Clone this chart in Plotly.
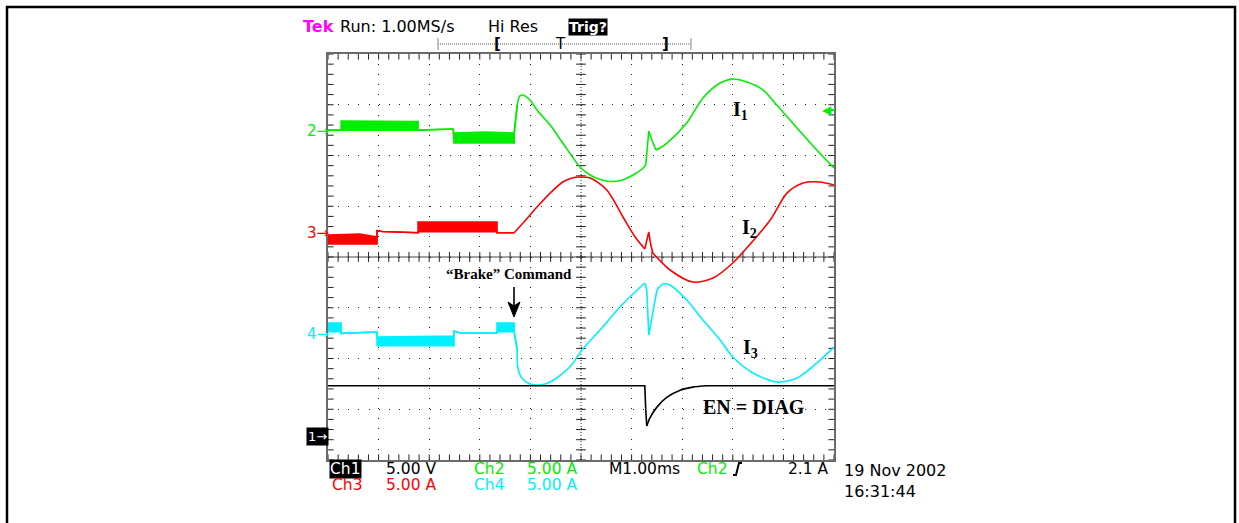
import plotly.graph_objects as go

W, H = 1239, 523

# ---------------- data (time in ms, currents in A, voltage in V) ----------------
# Ch2 : I1 (green) - lower / upper envelope (upper differs only where PWM ripple band)
ch2_t = [0.00, 0.26, 0.26, 1.03, 1.78, 1.78, 2.47, 2.49, 3.10, 3.68, 3.68, 3.74, 3.79, 3.85,
         3.99, 4.13, 4.39, 4.64, 4.98, 5.18, 5.38, 5.57, 5.77, 6.03, 6.21, 6.28, 6.30, 6.34,
         6.40, 6.48, 6.56, 6.70, 7.09, 7.41, 7.75, 8.00, 8.28, 8.60, 8.87, 9.27, 9.66, 10.0]
ch2_lo = [0.00, 0.00, 0.01, 0.06, 0.01, 0.00, 0.11, -1.27, -1.27, -1.27, -0.29, 2.47, 3.36, 3.46,
          2.97, 1.98, 0.50, -1.27, -3.63, -4.42, -4.87, -5.06, -4.99, -4.42, -3.83, -3.44, -2.45, -0.09,
          -0.98, -1.96, -1.76, -1.27, 0.70, 3.16, 4.64, 5.04, 4.74, 3.95, 2.47, 0.21, -1.96, -3.73]
ch2_hi = [0.00, 0.00, 0.90, 0.90, 0.85, 0.00, 0.11, -0.29, -0.19, -0.29, -0.29, 2.47, 3.36, 3.46,
          2.97, 1.98, 0.50, -1.27, -3.63, -4.42, -4.87, -5.06, -4.99, -4.42, -3.83, -3.44, -2.45, -0.09,
          -0.98, -1.96, -1.76, -1.27, 0.70, 3.16, 4.64, 5.04, 4.74, 3.95, 2.47, 0.21, -1.96, -3.73]

# Ch3 : I2 (red)
ch3_t = [0.00, 0.63, 0.97, 0.97, 1.07, 1.78, 1.78, 3.34, 3.34, 3.68, 3.89, 4.13, 4.39, 4.64,
         4.82, 4.98, 5.18, 5.51, 5.83, 6.07, 6.26, 6.30, 6.34, 6.38, 6.42, 6.76, 7.21, 7.61,
         8.00, 8.24, 8.74, 9.07, 9.39, 9.72, 10.0]
ch3_lo = [-1.22, -1.22, -1.22, 0.09, 0.01, -0.11, -0.01, -0.01, -0.11, -0.11, 1.04, 2.42, 3.80, 4.89,
          5.28, 5.38, 5.28, 4.10, 1.44, -0.53, -1.71, -0.83, -0.04, -1.32, -2.11, -3.78, -4.97, -4.57,
          -3.09, -1.81, 1.14, 3.80, 4.79, 4.89, 4.59]
ch3_hi = [-0.33, -0.24, -0.53, 0.09, 0.01, -0.11, 0.95, 0.95, -0.11, -0.11, 1.04, 2.42, 3.80, 4.89,
          5.28, 5.38, 5.28, 4.10, 1.44, -0.53, -1.71, -0.83, -0.04, -1.32, -2.11, -3.78, -4.97, -4.57,
          -3.09, -1.81, 1.14, 3.80, 4.79, 4.89, 4.59]

# Ch4 : I3 (cyan)
ch4_t = [0.00, 0.26, 0.26, 0.97, 0.97, 2.49, 2.49, 2.61, 3.34, 3.34, 3.68, 3.68, 3.74, 3.75,
         3.83, 3.99, 4.19, 4.39, 4.78, 5.02, 5.43, 5.77, 6.11, 6.26, 6.30, 6.34, 6.40, 6.50,
         6.62, 6.76, 7.09, 7.41, 7.75, 8.00, 8.40, 8.87, 9.27, 9.66, 10.0]
ch4_lo = [0.14, 0.14, -0.02, 0.11, -1.24, -1.24, 0.21, 0.01, 0.01, 0.14, 0.14, 0.11, -1.66, -3.34,
          -4.42, -5.01, -5.11, -4.82, -3.34, -1.66, 0.60, 2.57, 4.25, 4.94, 4.25, -0.19, 1.59, 4.25,
          4.84, 4.74, 3.26, 1.29, -0.68, -2.35, -3.93, -4.82, -4.42, -2.95, -1.37]
ch4_hi = [0.99, 0.99, -0.02, 0.11, -0.38, -0.29, 0.21, 0.01, 0.01, 0.99, 0.99, 0.11, -1.66, -3.34,
          -4.42, -5.01, -5.11, -4.82, -3.34, -1.66, 0.60, 2.57, 4.25, 4.94, 4.25, -0.19, 1.59, 4.25,
          4.84, 4.74, 3.26, 1.29, -0.68, -2.35, -3.93, -4.82, -4.42, -2.95, -1.37]

# Ch1 : EN = DIAG (black)
ch1_t = [0.00, 6.26, 6.28, 6.30, 6.36, 6.50, 6.70, 6.96, 7.21, 7.49, 10.0]
ch1_v = [4.96, 4.96, 2.56, 0.99, 1.77, 2.86, 3.84, 4.53, 4.83, 4.96, 4.96]

# ---------------- drawing style: how each channel's point list is stroked ----------------
# (first index, last index, line shape)
ch2_segments = [(0, 11, 'linear'), (11, 25, 'spline'), (25, 29, 'linear'), (29, 41, 'spline')]
ch3_segments = [(0, 9, 'linear'), (9, 20, 'spline'), (20, 24, 'linear'), (24, 34, 'spline')]
ch4_segments = [(0, 12, 'linear'), (12, 23, 'spline'), (23, 27, 'linear'), (27, 38, 'spline')]
ch1_segments = [(0, 3, 'linear'), (3, 9, 'spline'), (9, 10, 'linear')]


def PX(x):
    return x / W


def PY(y):
    return 1 - y / H


fig = go.Figure()

GRID = '#222222'
# graticule minor ticks (centre lines and border)
minor_x = [i * 0.2 for i in range(51)]
minor_y = [i * 0.2 for i in range(41)]
tick_style = dict(color=GRID, width=1)
for yy, sz in [(4, 7), (0, 8), (8, 8)]:
    fig.add_trace(go.Scatter(x=minor_x, y=[yy] * len(minor_x), mode='markers',
                             marker=dict(symbol='line-ns', size=sz, line=tick_style),
                             hoverinfo='skip', showlegend=False))
for xx, sz in [(5, 7), (0, 8), (10, 8)]:
    fig.add_trace(go.Scatter(x=[xx] * len(minor_y), y=minor_y, mode='markers',
                             marker=dict(symbol='line-ew', size=sz, line=tick_style),
                             hoverinfo='skip', showlegend=False))


def add_channel(t, lo, hi, color, offset, per_div, segments):
    ylo = [offset + v / per_div for v in lo]
    yhi = [offset + v / per_div for v in hi]
    for a, b, shape in segments:
        tt = t[a:b + 1]
        line = dict(color=color, width=1.6, shape=shape)
        if shape == 'spline':
            line['smoothing'] = 0.8
        fig.add_trace(go.Scatter(x=tt, y=ylo[a:b + 1], mode='lines', line=line,
                                 hoverinfo='skip', showlegend=False))
        if yhi[a:b + 1] != ylo[a:b + 1]:
            fig.add_trace(go.Scatter(x=tt, y=yhi[a:b + 1], mode='lines', line=line,
                                     fill='tonexty', fillcolor=color,
                                     hoverinfo='skip', showlegend=False))


GREEN, RED, CYAN = '#00ee00', '#ff0000', '#00f0ff'
add_channel(ch2_t, ch2_lo, ch2_hi, GREEN, 6.5, 5.0, ch2_segments)
add_channel(ch3_t, ch3_lo, ch3_hi, RED, 4.5, 5.0, ch3_segments)
add_channel(ch4_t, ch4_lo, ch4_hi, CYAN, 2.5, 5.0, ch4_segments)
add_channel(ch1_t, ch1_v, ch1_v, 'black', 0.47, 5.0, ch1_segments)

# ---------------- shapes ----------------
shapes = []
# outer frame
shapes.append(dict(type='rect', xref='paper', yref='paper', x0=PX(7), x1=PX(1235), y0=PY(7), y1=PY(560),
                   line=dict(color='black', width=2.5), fillcolor='rgba(0,0,0,0)'))
# centre lines
shapes.append(dict(type='line', xref='x', yref='y', x0=5, x1=5, y0=0, y1=8, layer='below',
                   line=dict(color=GRID, width=1, dash='1px,2px')))
shapes.append(dict(type='line', xref='x', yref='y', x0=0, x1=10, y0=4, y1=4, layer='below',
                   line=dict(color='#444444', width=1)))
# top record-length bar
shapes.append(dict(type='line', xref='paper', yref='paper', x0=PX(438), x1=PX(691), y0=PY(44), y1=PY(44),
                   line=dict(color='#555555', width=1, dash='1px,1px')))
for xb in (438, 691):
    shapes.append(dict(type='line', xref='paper', yref='paper', x0=PX(xb), x1=PX(xb), y0=PY(38), y1=PY(50),
                       line=dict(color='#888888', width=1)))
# "Brake" command arrow
shapes.append(dict(type='line', xref='paper', yref='paper', x0=PX(514), x1=PX(514), y0=PY(287), y1=PY(306),
                   line=dict(color='#333333', width=2)))
shapes.append(dict(type='path', xref='paper', yref='paper',
                   path='M{},{} L{},{} L{},{} L{},{} Z'.format(PX(508), PY(302), PX(514), PY(317),
                                                               PX(520), PY(302), PX(514), PY(306)),
                   fillcolor='black', line=dict(color='black', width=1)))
# trigger slope icon
shapes.append(dict(type='path', xref='paper', yref='paper',
                   path='M{},{} L{},{} L{},{} L{},{}'.format(PX(733), PY(475), PX(736), PY(475),
                                                             PX(739), PY(463), PX(742), PY(463)),
                   line=dict(color='black', width=2)))
# trigger level marker tail (right edge)
shapes.append(dict(type='line', xref='paper', yref='paper', x0=PX(828), x1=PX(835), y0=PY(110), y1=PY(110),
                   line=dict(color='#00ee00', width=2)))

# ---------------- annotations ----------------
SANS = 'DejaVu Sans'
SERIF = 'Liberation Serif'
ann = []


def txt(text, x, y, color='black', size=16, family=SANS, anchor='left', bg=None, pad=1, bold=False):
    d = dict(text=text, x=PX(x), y=PY(y), xref='paper', yref='paper', showarrow=False,
             xanchor=anchor, yanchor='middle',
             font=dict(family=family, size=size, color=color, weight='bold' if bold else 'normal'),
             borderpad=pad)
    if bg:
        d['bgcolor'] = bg
    ann.append(d)


# header
txt('Tek', 301, 26.5, color='#ff00ff', bold=True)
txt('Run: 1.00MS/s', 338, 26.5)
txt('Hi Res', 485.5, 26.5)
txt('Trig?', 588, 26.7, color='white', bg='black', pad=0, anchor='center', bold=True, size=14)
txt('[', 497, 44, size=15, anchor='center', bold=True)
txt('T', 560, 44, size=15, anchor='center')
txt(']', 665, 44, size=15, anchor='center', bold=True)

# channel ground markers
txt('2→', 305, 131, color=GREEN, size=15)
txt('3→', 305, 233, color=RED, size=15)
txt('4→', 305, 333.5, color=CYAN, size=15)
txt('1→', 306, 436, color='white', bg='black', size=13, pad=1)
txt('◀', 821, 110, color=GREEN, size=12, pad=0)

# bottom readout
BS = 15.5
txt('Ch1', 329, 468.5, color='white', bg='black', size=BS, pad=0)
txt('5.00 V', 385, 468.5, size=BS, pad=0)
txt('Ch2', 473, 468.5, color=GREEN, size=BS, pad=0)
txt('5.00 A', 525.5, 468.5, color=GREEN, size=BS, pad=0)
txt('M1.00ms', 608, 468.5, size=BS, pad=0)
txt('Ch2', 696, 468.5, color=GREEN, size=BS, pad=0)
txt('2.1 A', 830, 468.5, anchor='right', size=BS, pad=0)
txt('Ch3', 331, 485, color=RED, size=BS, pad=0)
txt('5.00 A', 385, 485, color=RED, size=BS, pad=0)
txt('Ch4', 473, 485, color=CYAN, size=BS, pad=0)
txt('5.00 A', 525.5, 485, color=CYAN, size=BS, pad=0)
txt('19 Nov 2002', 842.5, 470, pad=0)
txt('16:31:44', 842.5, 491, pad=0)

# labels
txt('“Brake” Command', 444, 273.5, family=SERIF, size=15, bold=True)
txt('I<sub>1</sub>', 731, 110, family=SERIF, size=20, bold=True)
txt('I<sub>2</sub>', 740, 228, family=SERIF, size=20, bold=True)
txt('I<sub>3</sub>', 741, 348, family=SERIF, size=20, bold=True)
txt('EN = DIAG', 701, 407, family=SERIF, size=20, bold=True)

axis_common = dict(showticklabels=False, ticks='', zeroline=False, showgrid=True, dtick=1, tick0=0,
                   gridcolor=GRID, gridwidth=1, showline=True, mirror=True, linecolor='#6a6a6a',
                   linewidth=2, fixedrange=True)

fig.update_layout(
    width=W, height=H, margin=dict(l=0, r=0, t=0, b=0),
    paper_bgcolor='white', plot_bgcolor='white', showlegend=False,
    xaxis=dict(domain=[PX(328), PX(834)], range=[0, 10], griddash='1px,9.12px', **axis_common),
    yaxis=dict(domain=[PY(460), PY(54)], range=[0, 8], griddash='1px,9.15px', **axis_common),
    shapes=shapes, annotations=ann,
)

fig.write_html('out.html', config={'displayModeBar': False},
               post_script="document.body.style.margin='0';document.body.style.overflow='hidden';")
